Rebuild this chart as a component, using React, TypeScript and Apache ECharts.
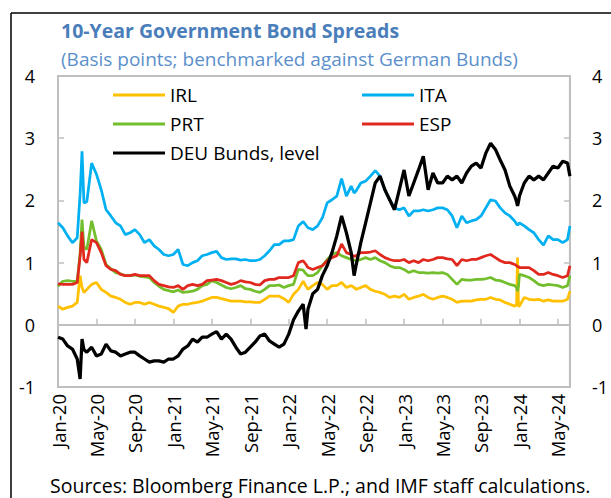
import React, { useEffect, useRef } from 'react';
import * as echarts from 'echarts';

// x positions in months since Jan-2020
const months = [
  0, 0.5, 1, 1.5, 2, 2.3, 2.5, 2.7, 3, 3.5, 4, 4.5, 5, 5.5, 6, 6.5, 7, 7.5, 8, 8.5,
  9, 9.5, 10, 10.5, 11, 11.5, 12, 12.5, 13, 13.5, 14, 14.5, 15, 15.5, 16, 16.5, 17, 17.5,
  18, 18.5, 19, 19.5, 20, 20.5, 21, 21.5, 22, 22.5, 23, 23.5, 24, 24.5, 25, 25.5, 25.8,
  26, 26.5, 27, 27.5, 28, 28.5, 29, 29.5, 30, 30.5, 30.8, 31, 31.5, 32, 32.5, 33, 33.5,
  34, 34.5, 35, 35.5, 36, 36.5, 37, 37.5, 38, 38.5, 39, 39.5, 40, 40.5, 41, 41.5, 42,
  42.5, 43, 43.5, 44, 44.5, 45, 45.5, 46, 46.5, 47, 47.5, 47.7, 47.8, 47.9, 48, 48.5,
  49, 49.5, 50, 50.5, 51, 51.5, 52, 52.5, 53, 53.25,
];

const tickLabels = [
  'Jan-20', 'May-20', 'Sep-20', 'Jan-21', 'May-21', 'Sep-21', 'Jan-22',
  'May-22', 'Sep-22', 'Jan-23', 'May-23', 'Sep-23', 'Jan-24', 'May-24',
];

const irl = [
  0.30, 0.25, 0.28, 0.30, 0.36, 0.79, 0.60, 0.52, 0.57, 0.65, 0.68, 0.57, 0.52, 0.46, 0.44, 0.41, 0.36, 0.33, 0.36, 0.36,
  0.33, 0.36, 0.33, 0.30, 0.28, 0.26, 0.20, 0.30, 0.33, 0.33, 0.35, 0.36, 0.38, 0.41, 0.44, 0.44, 0.42, 0.40,
  0.38, 0.38, 0.38, 0.37, 0.37, 0.36, 0.36, 0.41, 0.46, 0.46, 0.46, 0.42, 0.36, 0.49, 0.57, 0.70, 0.62,
  0.57, 0.63, 0.68, 0.65, 0.57, 0.63, 0.63, 0.68, 0.60, 0.63, 0.60, 0.57, 0.60, 0.63, 0.57, 0.54, 0.52,
  0.49, 0.44, 0.46, 0.44, 0.49, 0.41, 0.44, 0.46, 0.49, 0.44, 0.41, 0.44, 0.46, 0.44, 0.41, 0.36, 0.38,
  0.38, 0.38, 0.40, 0.41, 0.41, 0.44, 0.41, 0.40, 0.36, 0.33, 0.30, 0.32, 1.08, 0.30, 0.30, 0.44,
  0.41, 0.40, 0.41, 0.38, 0.40, 0.38, 0.38, 0.38, 0.41, 0.54,
];

const ita = [
  1.64, 1.56, 1.43, 1.32, 1.40, 2.10, 2.79, 1.96, 1.98, 2.60, 2.42, 2.17, 1.85, 1.75, 1.64, 1.59, 1.45, 1.48, 1.53, 1.45,
  1.32, 1.37, 1.27, 1.21, 1.13, 1.11, 1.13, 1.21, 0.97, 0.95, 1.00, 1.03, 1.11, 1.13, 1.16, 1.18, 1.08, 1.05,
  1.06, 1.06, 1.04, 1.05, 1.03, 1.03, 1.05, 1.11, 1.19, 1.29, 1.29, 1.35, 1.35, 1.37, 1.59, 1.66, 1.60,
  1.56, 1.53, 1.59, 1.72, 1.96, 2.01, 2.07, 2.35, 2.07, 2.23, 2.12, 2.15, 2.28, 2.31, 2.39, 2.48, 2.39,
  2.17, 2.01, 1.88, 1.85, 1.88, 1.75, 1.83, 1.83, 1.85, 1.83, 1.85, 1.88, 1.88, 1.85, 1.75, 1.56, 1.75,
  1.64, 1.67, 1.69, 1.75, 1.88, 2.01, 1.99, 1.88, 1.80, 1.75, 1.67, 1.62, 1.60, 1.62, 1.64, 1.59,
  1.53, 1.48, 1.37, 1.28, 1.43, 1.37, 1.37, 1.32, 1.37, 1.59,
];

const prt = [
  0.62, 0.70, 0.71, 0.70, 0.70, 1.15, 1.69, 1.25, 1.21, 1.67, 1.35, 1.21, 0.97, 0.90, 0.84, 0.82, 0.79, 0.79, 0.80, 0.78,
  0.77, 0.76, 0.68, 0.62, 0.57, 0.55, 0.53, 0.56, 0.52, 0.53, 0.54, 0.57, 0.63, 0.65, 0.71, 0.68, 0.64, 0.60,
  0.58, 0.60, 0.63, 0.58, 0.57, 0.54, 0.52, 0.57, 0.63, 0.63, 0.64, 0.60, 0.63, 0.65, 0.89, 0.88, 0.82,
  0.79, 0.79, 0.84, 0.95, 1.05, 1.13, 1.16, 1.11, 1.08, 1.05, 1.04, 1.03, 1.05, 1.08, 1.05, 1.08, 1.03,
  1.00, 0.95, 0.92, 0.92, 0.89, 0.84, 0.87, 0.84, 0.84, 0.83, 0.84, 0.83, 0.84, 0.81, 0.73, 0.65, 0.73,
  0.72, 0.72, 0.73, 0.73, 0.74, 0.76, 0.72, 0.71, 0.68, 0.65, 0.63, 0.60, 0.54, 0.62, 0.81, 0.79,
  0.76, 0.71, 0.65, 0.63, 0.65, 0.64, 0.63, 0.60, 0.63, 0.79,
];

const esp = [
  0.66, 0.65, 0.65, 0.65, 0.68, 1.10, 1.50, 1.05, 1.00, 1.37, 1.32, 1.16, 0.95, 0.89, 0.87, 0.81, 0.79, 0.79, 0.81, 0.79,
  0.79, 0.79, 0.71, 0.65, 0.63, 0.61, 0.60, 0.63, 0.57, 0.63, 0.65, 0.63, 0.65, 0.71, 0.72, 0.73, 0.71, 0.68,
  0.65, 0.67, 0.71, 0.69, 0.68, 0.65, 0.64, 0.71, 0.73, 0.73, 0.76, 0.76, 0.76, 0.79, 1.00, 1.03, 0.97,
  0.92, 0.89, 0.92, 0.95, 1.03, 1.08, 1.11, 1.30, 1.16, 1.13, 1.10, 1.11, 1.16, 1.16, 1.17, 1.19, 1.13,
  1.08, 1.05, 1.03, 1.03, 1.05, 1.00, 1.03, 1.00, 1.05, 1.03, 1.05, 1.08, 1.08, 1.06, 1.05, 0.95, 1.05,
  1.03, 1.05, 1.05, 1.08, 1.11, 1.13, 1.08, 1.03, 1.00, 1.00, 0.97, 0.95, 0.93, 0.94, 0.92, 0.92,
  0.92, 0.87, 0.81, 0.81, 0.84, 0.81, 0.79, 0.76, 0.79, 0.95,
];

const deu = [
  -0.20, -0.23, -0.34, -0.39, -0.55, -0.87, -0.23, -0.40, -0.44, -0.36, -0.50, -0.47, -0.31, -0.42, -0.44, -0.50, -0.47, -0.44, -0.44, -0.50,
  -0.55, -0.60, -0.58, -0.58, -0.60, -0.55, -0.55, -0.50, -0.39, -0.34, -0.23, -0.28, -0.20, -0.20, -0.15, -0.11, -0.23, -0.15,
  -0.23, -0.36, -0.47, -0.44, -0.36, -0.28, -0.18, -0.15, -0.26, -0.31, -0.36, -0.31, -0.15, 0.08, 0.22, 0.33, -0.07,
  0.25, 0.50, 0.57, 0.79, 0.95, 1.16, 1.43, 1.75, 1.48, 1.16, 0.79, 0.95, 1.32, 1.64, 1.96, 2.28, 2.39,
  2.17, 2.01, 1.85, 2.17, 2.49, 2.07, 2.28, 2.49, 2.71, 2.17, 2.44, 2.28, 2.28, 2.39, 2.33, 2.39, 2.28,
  2.44, 2.55, 2.60, 2.52, 2.76, 2.92, 2.82, 2.65, 2.49, 2.23, 2.07, 1.98, 1.91, 1.98, 2.07, 2.28,
  2.39, 2.33, 2.39, 2.33, 2.44, 2.55, 2.52, 2.63, 2.60, 2.39,
];

const FONT = "'Open Sans', 'Noto Sans', sans-serif";
const GREY = '#BFBFBF';

function pairs(vals: number[]) {
  return months.map((m, i) => [m, vals[i]]);
}

export default function App() {
  const ref = useRef<HTMLDivElement>(null);
  useEffect(() => {
    if (!ref.current) return;
    const chart = echarts.init(ref.current, undefined, { renderer: 'svg' });
    const lineSeries = (name: string, vals: number[], color: string, width = 2.75) => ({
      name,
      type: 'line',
      data: pairs(vals),
      symbol: 'none',
      xAxisIndex: 0,
      yAxisIndex: 0,
      lineStyle: { color, width },
      itemStyle: { color },
    });
    const legendBase = {
      orient: 'vertical',
      top: 80,
      icon: 'rect',
      itemWidth: 52,
      itemHeight: 3,
      itemGap: 9,
      textStyle: { fontFamily: FONT, fontSize: 19, color: '#000', lineHeight: 20 },
    };
    const yAxisBase = {
      type: 'value',
      min: -1,
      max: 4,
      interval: 1,
      axisLine: { show: true, onZero: false, lineStyle: { color: GREY, width: 2 } },
      axisTick: { show: true, inside: true, length: 6, lineStyle: { color: GREY, width: 1.5 } },
      splitLine: { show: false },
    };
    chart.setOption({
      animation: false,
      title: [
        {
          text: '10-Year Government Bond Spreads',
          left: 56,
          top: 15,
          textStyle: { fontFamily: FONT, fontSize: 19.5, fontWeight: 'bold', color: '#4A7EBB' },
        },
        {
          text: '(Basis points; benchmarked against German Bunds)',
          left: 56,
          top: 44,
          textStyle: { fontFamily: FONT, fontSize: 19, fontWeight: 'normal', color: '#5B8FCB' },
        },
      ],
      legend: [
        { ...legendBase, left: 108, data: ['IRL', 'PRT', 'DEU Bunds, level'] },
        { ...legendBase, left: 357, data: ['ITA', 'ESP'] },
      ],
      grid: {
        left: 58,
        right: 33,
        top: 76,
        bottom: 111,
        show: true,
        borderColor: GREY,
        borderWidth: 2,
        backgroundColor: 'transparent',
      },
      xAxis: [
        {
          type: 'value',
          min: 0,
          max: 53.25,
          interval: 4,
          position: 'bottom',
          axisLine: { show: false, onZero: false },
          axisTick: { show: false },
          splitLine: { show: false },
          axisLabel: {
            rotate: 90,
            margin: 7,
            fontSize: 18.5,
            color: '#000',
            fontFamily: FONT,
            formatter: (v: number) => {
              const k = Math.round(v / 4);
              return Math.abs(v - k * 4) < 1e-6 && tickLabels[k] ? tickLabels[k] : '';
            },
          },
        },
        {
          type: 'value',
          min: 0,
          max: 53.25,
          interval: 4,
          position: 'bottom',
          axisLine: { show: true, onZero: true, lineStyle: { color: GREY, width: 2 } },
          axisTick: { show: true, inside: true, length: 6, lineStyle: { color: GREY, width: 1.5 } },
          axisLabel: { show: false },
          splitLine: { show: false },
        },
      ],
      yAxis: [
        {
          ...yAxisBase,
          position: 'left',
          axisLabel: { margin: 23, fontSize: 18, color: '#000', fontFamily: FONT },
        },
        {
          ...yAxisBase,
          position: 'right',
          axisLabel: { margin: 22, fontSize: 18, color: '#000', fontFamily: FONT },
        },
      ],
      series: [
        lineSeries('IRL', irl, '#FFC000'),
        lineSeries('ITA', ita, '#00B0F0'),
        lineSeries('PRT', prt, '#72BE2C'),
        lineSeries('ESP', esp, '#E0281E'),
        lineSeries('DEU Bunds, level', deu, '#000000', 3.25),
      ],
      graphic: [
        { type: 'line', shape: { x1: 11, y1: 13, x2: 611, y2: 13 }, style: { stroke: '#000', lineWidth: 1.5 } },
        { type: 'line', shape: { x1: 11, y1: 13, x2: 11, y2: 498 }, style: { stroke: '#000', lineWidth: 1.5 } },
        {
          type: 'text',
          left: 50,
          top: 475,
          style: {
            text: 'Sources: Bloomberg Finance L.P.; and IMF staff calculations.',
            fontFamily: FONT,
            fontSize: 19.5,
            fill: '#000',
          },
        },
      ],
    });
    return () => chart.dispose();
  }, []);
  return (
    <div
      ref={ref}
      style={{ position: 'absolute', left: 0, top: 0, width: 611, height: 498, background: '#fff' }}
    />
  );
}
